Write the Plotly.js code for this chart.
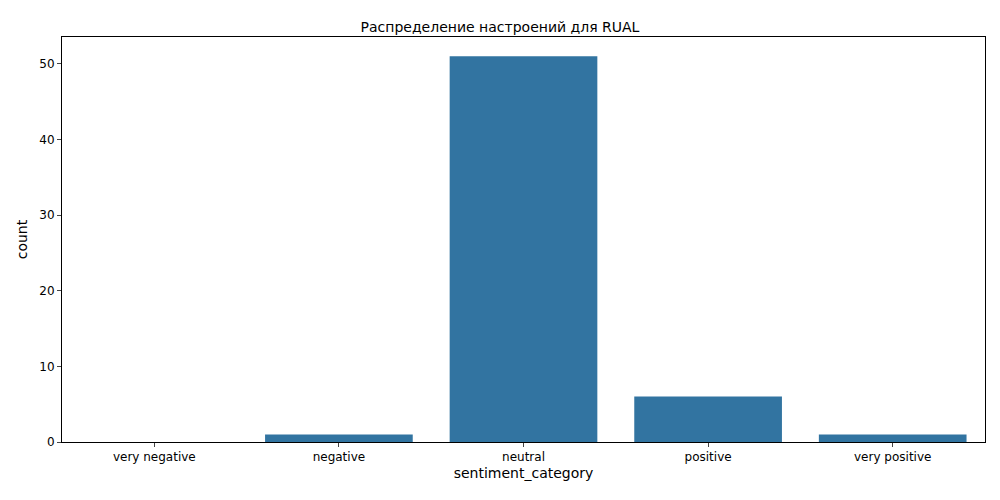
<!DOCTYPE html>
<html><head><meta charset="utf-8">
<script src="https://cdn.plot.ly/plotly-3.0.1.min.js"></script>
<style>body{margin:0}</style></head>
<body><div id="c" style="width:1000px;height:500px"></div>
<script>
const categories = ["very negative","negative","neutral","positive","very positive"];
const counts = [0, 1, 51, 6, 1];
const tickVals = [0,10,20,30,40,50];
Plotly.newPlot('c', [{
  type:'bar', x:categories, y:counts, width:0.8,
  marker:{color:'#3274a1'}, hoverinfo:'x+y'
}], {
  width:1000, height:500,
  margin:{l:62, r:15, t:37, b:58},
  font:{family:'DejaVu Sans', size:12, color:'#000'},
  title:{text:'Распределение настроений для RUAL', font:{size:14}, x:0.5, xanchor:'center', y:0.955},
  plot_bgcolor:'#fff', paper_bgcolor:'#fff',
  bargap:0.2,
  xaxis:{title:{text:'sentiment_category', standoff:4}, range:[-0.5,4.5], showline:true, mirror:true, linecolor:'#000', linewidth:1, ticks:'outside', ticklen:4, showgrid:false},
  yaxis:{title:{text:'count', standoff:8}, range:[0,53.55], tickvals:tickVals, showline:true, mirror:true, linecolor:'#000', linewidth:1, ticks:'outside', ticklen:4, showgrid:false, zeroline:false}
}, {displayModeBar:false});
</script></body></html>
